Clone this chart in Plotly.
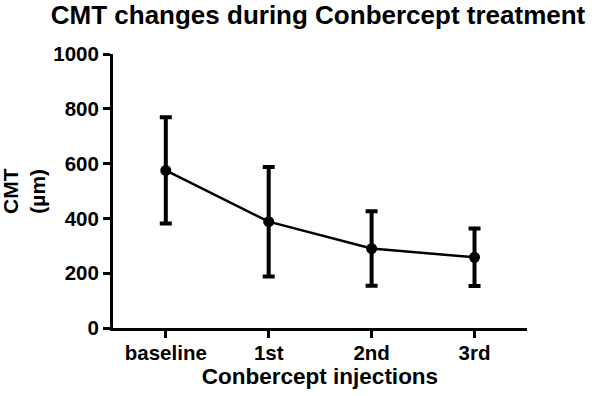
import plotly.graph_objects as go

categories = ["baseline", "1st", "2nd", "3rd"]
cmt_mean = [575, 388, 290, 258]
cmt_sd = [194, 200, 136, 105]
y_ticks = [0, 200, 400, 600, 800, 1000]

FONT = "Liberation Sans, Arial, Helvetica, sans-serif"

fig = go.Figure()
fig.add_trace(go.Scatter(
    x=categories, y=cmt_mean,
    mode="lines+markers",
    line=dict(color="black", width=2.5),
    marker=dict(color="black", size=11),
    error_y=dict(type="data", array=cmt_sd, visible=True,
                 color="black", thickness=4, width=6),
    showlegend=False,
))

fig.update_layout(
    width=597, height=396,
    paper_bgcolor="white", plot_bgcolor="white",
    margin=dict(l=113, r=70, t=54, b=68, autoexpand=False),
    font=dict(family=FONT, color="black"),
    title=dict(text="<b>CMT changes during Conbercept treatment</b>",
               font=dict(size=26, family=FONT, color="black"),
               x=318/597, xanchor="center", xref="container",
               y=1 - 15/396, yanchor="middle", yref="container"),
    xaxis=dict(type="category", range=[-0.513, 3.51],
               showline=True, linecolor="black", linewidth=3,
               ticks="outside", ticklen=7, tickwidth=3, tickcolor="black",
               showgrid=False, zeroline=False,
               ticklabelstandoff=-3,
               tickfont=dict(size=20.5, family=FONT, color="black"),
               tickvals=categories,
               ticktext=["<b>%s</b>" % c for c in categories],
               title=dict(text="<b>Conbercept injections</b>",
                          font=dict(size=22.5, family=FONT, color="black"),
                          standoff=6)),
    yaxis=dict(range=[0, 1000], tickvals=y_ticks,
               ticktext=["<b>%d</b>" % v for v in y_ticks],
               showline=True, linecolor="black", linewidth=3,
               ticks="outside", ticklen=7, tickwidth=3, tickcolor="black",
               showgrid=False, zeroline=False,
               tickfont=dict(size=20.5, family=FONT, color="black")),
)

fig.add_annotation(
    text="<b>CMT<br>(µm)</b>", textangle=-90,
    xref="paper", yref="paper",
    x=(24 - 113) / 414, y=0.5, xanchor="center", yanchor="middle",
    showarrow=False,
    font=dict(size=21, family=FONT, color="black"),
)

fig.write_html("out.html",
               config={"displayModeBar": False},
               post_script="document.body.style.margin='0';document.body.style.overflow='hidden';")
